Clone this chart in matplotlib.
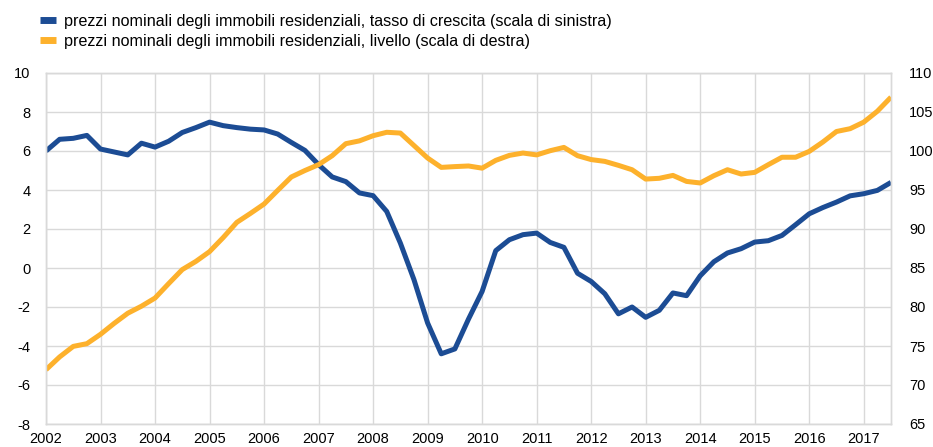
import matplotlib
matplotlib.use("Agg")
import matplotlib.pyplot as plt
import pandas as pd

# quarterly observations, 2002Q1 .. 2017Q3
quarters = pd.period_range("2002Q1", "2017Q3", freq="Q")

# growth rate, % (left scale)
growth = [
    6.0, 6.6, 6.65, 6.8,
    6.1, 5.95, 5.8, 6.4,
    6.2, 6.5, 6.95, 7.2,
    7.48, 7.3, 7.2, 7.12,
    7.08, 6.87, 6.44, 6.03,
    5.3, 4.67, 4.43, 3.85,
    3.71, 2.9, 1.28, -0.6,
    -2.82, -4.4, -4.15, -2.62,
    -1.2, 0.89, 1.45, 1.71,
    1.79, 1.31, 1.06, -0.27,
    -0.69, -1.32, -2.35, -2.0,
    -2.53, -2.17, -1.28, -1.42,
    -0.4, 0.32, 0.77, 0.99,
    1.33, 1.4, 1.67, 2.22,
    2.78, 3.1, 3.38, 3.7,
    3.81, 3.98, 4.39,
]

# level, index (right scale)
level = [
    71.96, 73.6, 74.95, 75.3,
    76.5, 77.9, 79.2, 80.1,
    81.15, 83.0, 84.8, 85.85,
    87.1, 88.9, 90.85, 92.0,
    93.2, 94.95, 96.67, 97.5,
    98.25, 99.4, 100.94, 101.3,
    101.96, 102.4, 102.3, 100.7,
    99.1, 97.9, 98.0, 98.08,
    97.8, 98.8, 99.44, 99.74,
    99.5, 100.04, 100.46, 99.4,
    98.9, 98.67, 98.16, 97.6,
    96.4, 96.5, 96.87, 96.1,
    95.9, 96.83, 97.6, 97.05,
    97.26, 98.25, 99.2, 99.2,
    99.95, 101.15, 102.5, 102.86,
    103.7, 105.1, 106.9,
]

years = list(range(2002, 2018))
left_ticks = list(range(-8, 11, 2))
right_ticks = list(range(65, 111, 5))

label_growth = "prezzi nominali degli immobili residenziali, tasso di crescita (scala di sinistra)"
label_level = "prezzi nominali degli immobili residenziali, livello (scala di destra)"

BLUE = "#1c4c94"
ORANGE = "#fdb12c"
GRID = "#d9d9d9"

plt.rcParams["font.family"] = ["Liberation Sans", "DejaVu Sans"]
plt.rcParams["axes.unicode_minus"] = False

x = [q.year + (q.quarter - 1) / 4 for q in quarters]

fig = plt.figure(figsize=(9.33, 4.47), dpi=100)
ax = fig.add_axes([46 / 933, 23 / 447, 845 / 933, 351 / 447])
ax2 = ax.twinx()

l1, = ax.plot(x, growth, color=BLUE, lw=3.6, solid_capstyle="butt", solid_joinstyle="round")
l2, = ax2.plot(x, level, color=ORANGE, lw=3.6, solid_capstyle="butt", solid_joinstyle="round")

ax.set_xlim(2002, 2017.5)
ax.set_ylim(-8, 10)
ax2.set_ylim(65, 110)
ax.set_xticks(years)
ax.set_yticks(left_ticks)
ax2.set_yticks(right_ticks)

ax.grid(True, color=GRID, lw=1.0)
ax.set_axisbelow(True)
for a in (ax, ax2):
    for s in a.spines.values():
        s.set_color(GRID)
        s.set_linewidth(1.0)
ax.tick_params(axis="both", length=0, labelsize=10.5, colors="black")
ax.tick_params(axis="y", pad=11)
ax.tick_params(axis="x", pad=6)
ax2.tick_params(axis="y", length=0, labelsize=10.5, pad=13)

leg = fig.legend(
    [l1, l2], [label_growth, label_level],
    loc="upper left", bbox_to_anchor=(40 / 933, 1 - 14 / 447),
    frameon=False, fontsize=11.6, handlelength=1.0, handletextpad=0.5,
    labelspacing=0.3, borderaxespad=0.0, borderpad=0.0,
)
for h in leg.legend_handles:
    h.set_linewidth(5)

fig.savefig("out.png", dpi=100)
